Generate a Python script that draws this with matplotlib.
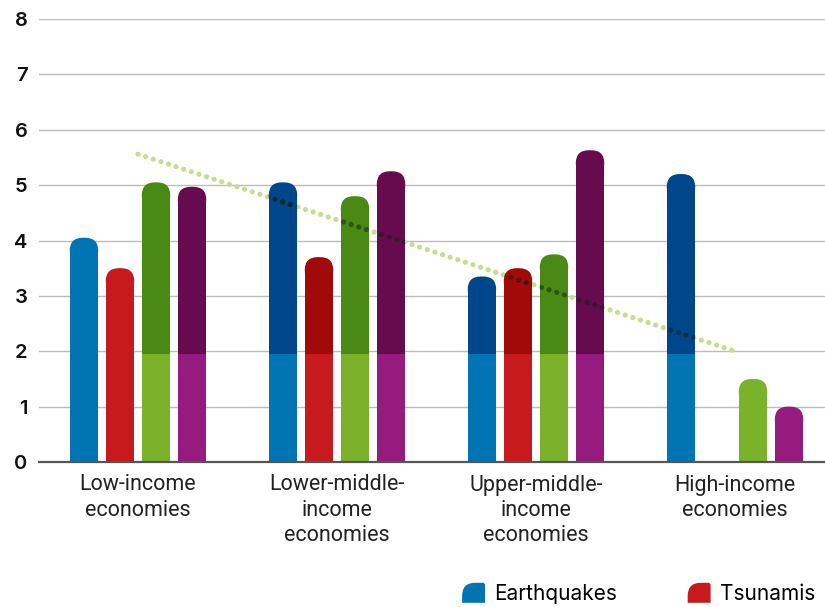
import numpy as np
import matplotlib
matplotlib.use("Agg")
import matplotlib.pyplot as plt
from matplotlib.patches import FancyBboxPatch, Patch, PathPatch
from matplotlib.path import Path
from matplotlib.legend_handler import HandlerBase

# data
categories = ["Low-income\neconomies", "Lower-middle-\nincome\neconomies",
              "Upper-middle-\nincome\neconomies", "High-income\neconomies"]
earthquakes = [4.05, 5.05, 3.35, 5.2]
tsunamis = [3.5, 3.7, 3.5, 0.0]
series3 = [5.05, 4.8, 3.75, 1.5]
series4 = [4.97, 5.25, 5.63, 1.0]
# height of the lighter lower segment of each bar
earthquakes_low = [4.05, 1.95, 1.95, 1.95]
tsunamis_low = [3.5, 1.95, 1.95, 0.0]
series3_low = [1.95, 1.95, 1.95, 1.5]
series4_low = [1.95, 1.95, 1.95, 1.0]
trend = [5.56, 2.0]  # trend line at first and last group
legend_labels = ["Earthquakes", "Tsunamis"]

light = ["#0174b3", "#c71a1f", "#7bb22c", "#951c7e"]
dark = ["#00468a", "#a20a0a", "#4a8a14", "#650b4e"]

W, H = 825, 607
fig = plt.figure(figsize=(W / 100, H / 100), dpi=100)
ax = fig.add_axes([38.5 / W, 145 / H, 796 / W, 443 / H])
ax.set_xlim(-0.5, 3.5)
ax.set_ylim(0, 8)

px_x = 796 / 4.0   # pixels per x unit
px_y = 443 / 8.0   # pixels per y unit
aspect = px_x / px_y
r_px = 13
rx = r_px / px_x
ry = r_px / px_y

x = np.arange(len(categories))
bar_w = 0.143
offsets = [-0.2715, -0.0905, 0.0905, 0.2715]
totals = [earthquakes, tsunamis, series3, series4]
lows = [earthquakes_low, tsunamis_low, series3_low, series4_low]

clip_patches = []
for i in range(4):
    for j in range(len(categories)):
        t = totals[i][j]
        if t <= 0:
            continue
        s = min(lows[i][j], t)
        xc = x[j] + offsets[i]
        full_light = s >= t
        top_col = light[i] if full_light else dark[i]
        body = ax.bar(xc, t - ry, width=bar_w, color=top_col, linewidth=0, zorder=3)[0]
        cap = FancyBboxPatch((xc - bar_w / 2, t - 2 * ry), bar_w, 2 * ry,
                             boxstyle=f"round,pad=0,rounding_size={rx}",
                             mutation_aspect=aspect,
                             facecolor=top_col, edgecolor="none", zorder=3)
        ax.add_patch(cap)
        clip_patches += [body, cap]
        if not full_light:
            ax.bar(xc, min(s, t - ry), width=bar_w, color=light[i], linewidth=0, zorder=3.5)

# dotted trend line (light on white, darkened where it crosses bars)
tx = [x[0], x[-1]]
dots = dict(lw=3.7, linestyle=(0, (0.01, 1.55)), dash_capstyle="round")
ax.plot(tx, trend, color="#c6dc8e", zorder=2, **dots)
for p in clip_patches:
    ln, = ax.plot(tx, trend, color="#102010", alpha=0.5, zorder=4, **dots)
    ln.set_clip_path(p)

ax.set_xticks(x)
ax.set_xticklabels(categories, fontfamily="Roboto", fontsize=15.5, color="#222222",
                   linespacing=1.28)
ax.set_yticks(range(0, 9))
ax.set_yticklabels([str(v) for v in range(0, 9)], fontfamily="Inter", fontsize=14.5,
                   fontweight="semibold", color="#111111")
ax.tick_params(axis="both", length=0)
ax.tick_params(axis="y", pad=8)
ax.tick_params(axis="x", pad=9)

ax.yaxis.grid(True, color="#bcbcbc", linewidth=1)
ax.set_axisbelow(True)
for side in ["top", "right", "left"]:
    ax.spines[side].set_visible(False)
ax.spines["bottom"].set_color("#555555")
ax.spines["bottom"].set_linewidth(1.6)
ax.spines["bottom"].set_zorder(5)


class RoundIcon(HandlerBase):
    def create_artists(self, legend, orig_handle, xdescent, ydescent, width, height,
                       fontsize, trans):
        x0, y0 = -xdescent, -ydescent
        r = min(width, height) * 0.65
        r2 = min(width, height) * 0.12
        verts = [(x0, y0), (x0, y0 + height - r), (x0, y0 + height), (x0 + r, y0 + height),
                 (x0 + width - r2, y0 + height), (x0 + width, y0 + height),
                 (x0 + width, y0 + height - r2), (x0 + width, y0), (x0, y0)]
        codes = [Path.MOVETO, Path.LINETO, Path.CURVE3, Path.CURVE3,
                 Path.LINETO, Path.CURVE3, Path.CURVE3, Path.LINETO, Path.CLOSEPOLY]
        pp = PathPatch(Path(verts, codes), facecolor=orig_handle.get_facecolor(),
                       edgecolor="none", transform=trans)
        return [pp]


handles = [Patch(facecolor=light[0], label=legend_labels[0]),
           Patch(facecolor=light[1], label=legend_labels[1])]
fig.legend(handles=handles, loc="lower left", bbox_to_anchor=(459 / W, 0.0), ncol=2,
           frameon=False, handler_map={Patch: RoundIcon()},
           prop={"family": "Inter", "size": 15}, handlelength=1.1, handleheight=1.1,
           handletextpad=0.43, columnspacing=3.4, borderpad=0.15, borderaxespad=0)

fig.savefig("out.png", dpi=100)
